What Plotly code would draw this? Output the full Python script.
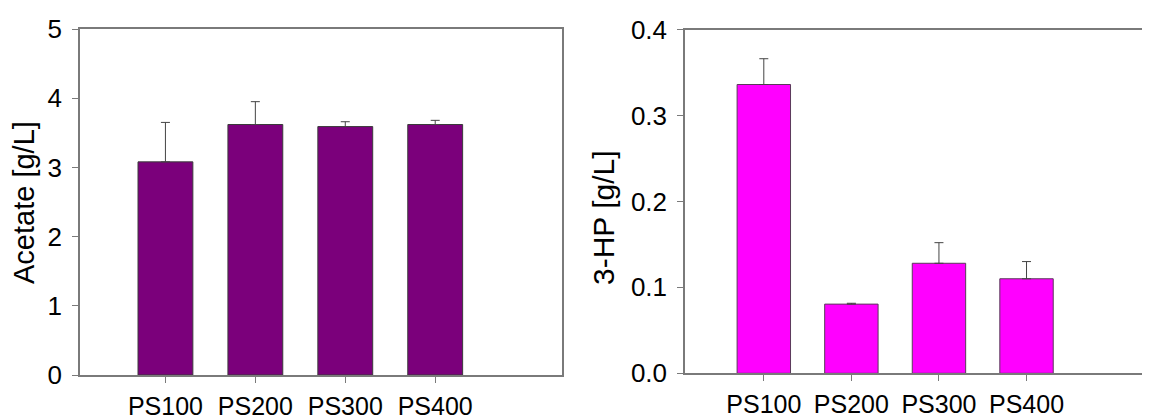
import plotly.graph_objects as go

categories = ["PS100", "PS200", "PS300", "PS400"]
acetate = [3.08, 3.62, 3.59, 3.62]
acetate_err = [0.57, 0.33, 0.07, 0.06]
hp = [0.336, 0.0805, 0.128, 0.110]
hp_err = [0.030, 0.001, 0.024, 0.020]
acetate_ticks = [0, 1, 2, 3, 4, 5]
hp_ticks = [0.0, 0.1, 0.2, 0.3, 0.4]

OFF = 8  # page body margin
W, H = 1150 - OFF, 419 - OFF
FONT = "Liberation Sans, Arial, sans-serif"
AXC = "#7a7a7a"
FS = 26
FT = 29

def px_x(x):
    return (x - OFF) / W

def px_y(y):
    return (H - (y - OFF)) / H

fig = go.Figure()
fig.add_trace(go.Bar(
    x=categories, y=acetate, width=0.61,
    marker=dict(color="#7b007b", line=dict(color="#3a3a3a", width=1)),
    error_y=dict(type="data", array=acetate_err, arrayminus=[0]*4, symmetric=False,
                 color="#444444", thickness=1, width=4.5),
    xaxis="x", yaxis="y", showlegend=False))
fig.add_trace(go.Bar(
    x=categories, y=hp, width=0.61,
    marker=dict(color="#ff00ff", line=dict(color="#5a3a5a", width=1)),
    error_y=dict(type="data", array=hp_err, arrayminus=[0]*4, symmetric=False,
                 color="#444444", thickness=1, width=4.5),
    xaxis="x2", yaxis="y2", showlegend=False))

def xa(domain, lo):
    return dict(domain=domain, range=[lo, 4.41],
                showline=True, linecolor=AXC, linewidth=1.5, mirror=True,
                ticks="outside", ticklen=6, tickcolor=AXC, showgrid=False,
                zeroline=False, tickfont=dict(size=25, color="black", family=FONT),
                ticklabelstandoff=2)

def ya(domain, rng, vals, mirror, fmt=None):
    d = dict(domain=domain, range=rng, tickvals=vals,
             showline=True, linecolor=AXC, linewidth=1.5, mirror=mirror,
             ticks="outside", ticklen=6, tickcolor=AXC, showgrid=False, zeroline=False,
             tickfont=dict(size=FS, color="black", family=FONT), ticklabelstandoff=5)
    if fmt:
        d["tickformat"] = fmt
    return d

fig.update_layout(
    width=W, height=H, margin=dict(l=0, r=0, t=0, b=0, autoexpand=False),
    plot_bgcolor="white", paper_bgcolor="white",
    font=dict(family=FONT, color="black"),
    xaxis=dict(xa([px_x(80), px_x(562)], -0.95), anchor="y"),
    xaxis2=dict(xa([px_x(685), 1.0], -0.90), anchor="y2"),
    yaxis=dict(ya([px_y(375), px_y(29)], [0, 5], acetate_ticks, True), anchor="x"),
    yaxis2=dict(ya([px_y(373.3), px_y(29.5)], [0, 0.4], hp_ticks, False, ".1f"),
                anchor="x2"),
    annotations=[
        dict(text="Acetate [g/L]", textangle=-90, xref="paper", yref="paper",
             x=px_x(24), y=px_y(203), showarrow=False, xanchor="center", yanchor="middle",
             font=dict(size=FT, color="black", family=FONT)),
        dict(text="3-HP [g/L]", textangle=-90, xref="paper", yref="paper",
             x=px_x(603), y=px_y(218), showarrow=False, xanchor="center", yanchor="middle",
             font=dict(size=FT + 1, color="black", family=FONT)),
    ],
)

fig.write_html("out.html")
